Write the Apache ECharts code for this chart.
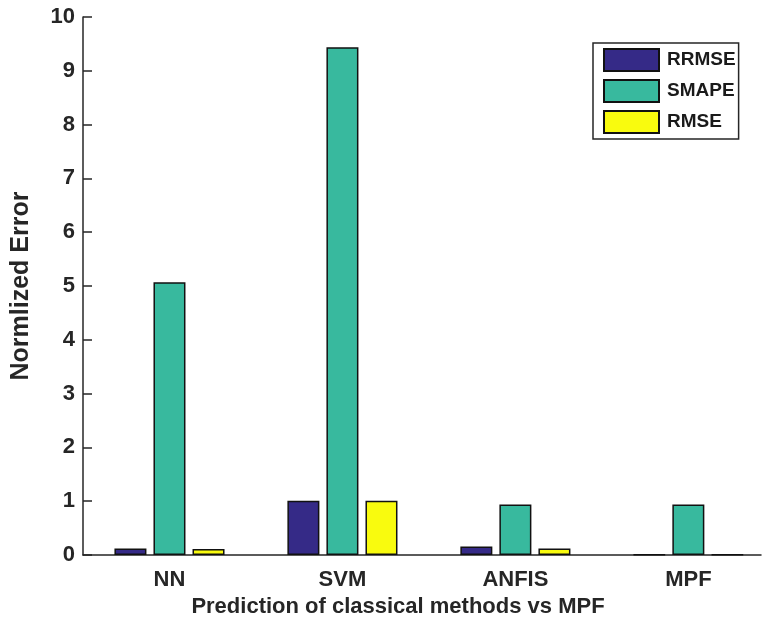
<!DOCTYPE html>
<html>
<head>
<meta charset="utf-8">
<script src="https://cdn.jsdelivr.net/npm/echarts@6/dist/echarts.min.js"></script>
<style>
html,body{margin:0;padding:0;background:#fff;}
#chart{width:762px;height:626px;}
</style>
</head>
<body>
<div id="chart"></div>
<script>
const categories = ['NN', 'SVM', 'ANFIS', 'MPF'];
const rrmse = [0.12, 1.01, 0.16, 0.005];
const smape = [5.07, 9.44, 0.94, 0.94];
const rmse = [0.11, 1.01, 0.12, 0.005];
const seriesNames = ['RRMSE', 'SMAPE', 'RMSE'];
const seriesColors = ['#352a87', '#38b99e', '#f9fb0e'];
const yTicks = [0, 1, 2, 3, 4, 5, 6, 7, 8, 9, 10];

const FONT = 'Liberation Sans, Arial, sans-serif';
const chart = echarts.init(document.getElementById('chart'));
const values = [rrmse, smape, rmse];
const catPos = categories.map((c, i) => i + 1);

chart.setOption({
  animation: false,
  backgroundColor: '#ffffff',
  grid: { left: 83, top: 17, right: 1, bottom: 71, containLabel: false },
  legend: {
    data: seriesNames,
    orient: 'vertical',
    left: 593,
    top: 43,
    padding: [5, 3, 5, 10],
    itemWidth: 55,
    itemHeight: 22,
    itemGap: 7,
    icon: 'rect',
    backgroundColor: '#ffffff',
    borderColor: '#262626',
    borderWidth: 1.5,
    textStyle: { fontFamily: FONT, fontWeight: 'bold', fontSize: 19, color: '#1a1a1a', padding: [0, 0, 0, 3] }
  },
  xAxis: {
    type: 'value',
    min: 0.5,
    max: 4.42,
    name: 'Prediction of classical methods vs MPF',
    nameLocation: 'middle',
    nameGap: 41,
    nameTextStyle: { fontFamily: FONT, fontWeight: 'bold', fontSize: 22, color: '#262626', padding: [0, 48, 0, 0] },
    axisLine: { onZero: false, lineStyle: { color: '#262626', width: 1.5 } },
    axisTick: { show: false },
    splitLine: { show: false },
    axisLabel: {
      customValues: catPos,
      formatter: v => categories[Math.round(v) - 1] || '',
      fontFamily: FONT, fontWeight: 'bold', fontSize: 22, color: '#262626', margin: 14
    }
  },
  yAxis: {
    type: 'value',
    min: 0,
    max: 10,
    interval: 1,
    name: 'Normlized Error',
    nameLocation: 'middle',
    nameGap: 49,
    nameTextStyle: { fontFamily: FONT, fontWeight: 'bold', fontSize: 25, color: '#262626' },
    axisLine: { show: true, lineStyle: { color: '#262626', width: 1.5 } },
    axisTick: { show: true, inside: true, length: 9, customValues: yTicks, lineStyle: { color: '#262626', width: 1.5 } },
    splitLine: { show: false },
    axisLabel: { customValues: yTicks, fontFamily: FONT, fontWeight: 'bold', fontSize: 22, color: '#262626', margin: 8 }
  },
  series: seriesNames.map((n, i) => ({
    name: n,
    type: 'bar',
    data: values[i].map((v, j) => [catPos[j], v]),
    barWidth: 32,
    barGap: '22%',
    itemStyle: { color: seriesColors[i], borderColor: '#111', borderWidth: 1.5 }
  }))
});
</script>
</body>
</html>
